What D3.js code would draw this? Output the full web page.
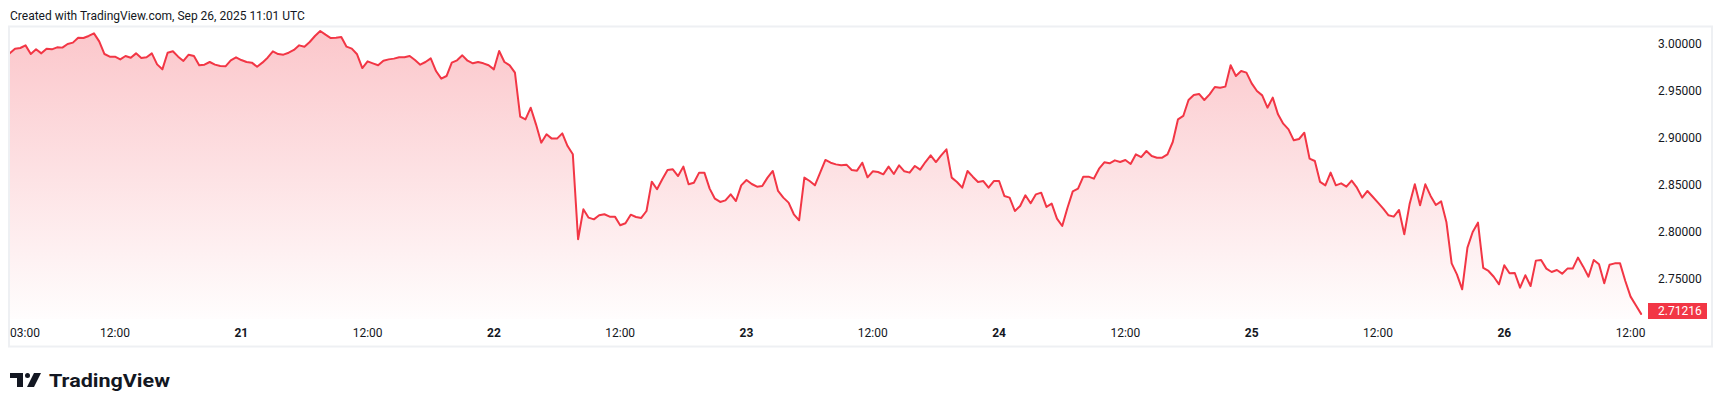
<!DOCTYPE html>
<html><head><meta charset="utf-8">
<script src="https://cdn.jsdelivr.net/npm/d3@7"></script>
<style>
html,body{margin:0;padding:0;background:#fff;}
svg{display:block;font-family:Roboto,"Noto Sans",sans-serif;}
</style></head>
<body>
<svg id="chart" width="1722" height="407"></svg>
<script>
// ---- data (30-minute closes, 20 Sep 02:00 -> 26 Sep 13:00) ----
const startTime = Date.UTC(2025, 8, 20, 2, 0);
const stepMinutes = 30;
const prices = [
2.9893,2.9943,2.9950,2.9978,2.9886,2.9936,2.9893,2.9943,2.9936,2.9957,2.9954,2.9993,3.0007,3.0060,3.0056,3.0078,3.0106,3.0021,2.9886,2.9858,
2.9858,2.9829,2.9865,2.9847,2.9893,2.9844,2.9851,2.9893,2.9776,2.9723,2.9900,2.9915,2.9858,2.9812,2.9879,2.9865,2.9766,2.9773,2.9801,2.9773,
2.9759,2.9755,2.9819,2.9851,2.9822,2.9801,2.9794,2.9751,2.9794,2.9847,2.9915,2.9886,2.9879,2.9900,2.9929,2.9978,2.9964,3.0014,3.0078,3.0131,
3.0092,3.0056,
3.0060,3.0067,2.9964,2.9943,2.9883,2.9737,2.9808,2.9787,2.9766,2.9815,2.9829,2.9837,2.9851,2.9851,2.9865,2.9822,2.9773,2.9801,2.9840,2.9705,
2.9624,2.9652,2.9794,2.9819,2.9872,2.9815,2.9787,2.9801,2.9787,2.9766,2.9723,2.9918,2.9801,2.9766,2.9688,2.9220,2.9191,2.9315,2.9138,2.8943,
2.9032,2.8986,2.8986,2.9042,2.8907,2.8819,2.7915,2.8234,2.8145,2.8127,2.8170,2.8181,2.8156,2.8156,2.8064,2.8085,2.8177,2.8152,2.8142,2.8216,
2.8528,2.8447,
2.8553,2.8652,2.8659,2.8588,2.8688,2.8500,2.8517,2.8624,2.8624,2.8454,2.8347,2.8312,2.8329,2.8393,2.8322,2.8489,2.8546,2.8503,2.8475,2.8482,
2.8571,2.8642,2.8429,2.8358,2.8305,2.8181,2.8117,2.8571,2.8535,2.8489,2.8624,2.8759,2.8730,2.8712,2.8702,2.8709,2.8652,2.8645,2.8730,2.8574,
2.8638,2.8631,2.8606,2.8688,2.8610,2.8702,2.8638,2.8624,2.8695,2.8656,2.8737,2.8808,2.8737,2.8808,2.8872,2.8571,2.8525,2.8464,2.8642,2.8581,
2.8525,2.8535,2.8464,
2.8535,2.8535,2.8376,2.8358,2.8216,2.8269,2.8383,2.8298,2.8393,2.8411,2.8259,2.8294,2.8134,2.8056,2.8251,2.8425,2.8454,2.8581,2.8581,2.8560,
2.8666,2.8734,2.8723,2.8755,2.8737,2.8759,2.8716,2.8819,2.8790,2.8854,2.8801,2.8783,2.8783,2.8819,2.8950,2.9191,2.9227,2.9397,2.9450,2.9461,
2.9397,2.9457,2.9535,2.9528,2.9539,2.9766,2.9652,2.9705,2.9688,2.9574,2.9493,2.9446,2.9315,2.9422,2.9244,2.9145,2.9085,2.8968,2.8982,2.9049,
2.8773,2.8748,
2.8525,2.8489,2.8624,2.8489,2.8510,2.8475,2.8539,2.8464,2.8358,2.8429,2.8368,2.8305,2.8241,2.8170,2.8156,2.8227,2.7968,2.8287,2.8500,2.8276,
2.8500,2.8376,2.8280,2.8319,2.8099,2.7659,2.7542,2.7383,2.7826,2.7993,2.8092,2.7610,2.7578,2.7517,2.7436,2.7638,2.7553,2.7556,2.7400,2.7532,
2.7418,2.7688,2.7695,2.7603,2.7567,2.7588,2.7549,2.7603,2.7603,2.7720,2.7624,2.7517,2.7695,2.7649,2.7447,2.7645,2.7659,2.7659,2.7471,2.7305,
2.7213,2.71216
];
const lastPrice = 2.71216;
const priceTicks = [3.0, 2.95, 2.9, 2.85, 2.8, 2.75];
const timeTicks = [
  [Date.UTC(2025,8,20,3), "03:00", false],
  [Date.UTC(2025,8,20,12), "12:00", false],
  [Date.UTC(2025,8,21,0), "21", true],
  [Date.UTC(2025,8,21,12), "12:00", false],
  [Date.UTC(2025,8,22,0), "22", true],
  [Date.UTC(2025,8,22,12), "12:00", false],
  [Date.UTC(2025,8,23,0), "23", true],
  [Date.UTC(2025,8,23,12), "12:00", false],
  [Date.UTC(2025,8,24,0), "24", true],
  [Date.UTC(2025,8,24,12), "12:00", false],
  [Date.UTC(2025,8,25,0), "25", true],
  [Date.UTC(2025,8,25,12), "12:00", false],
  [Date.UTC(2025,8,26,0), "26", true],
  [Date.UTC(2025,8,26,12), "12:00", false]
];
const titleText = "Created with TradingView.com, Sep 26, 2025 11:01 UTC";

const data = prices.map((p, i) => ({t: new Date(startTime + i*stepMinutes*60000), p}));

// ---- layout ----
const svg = d3.select("#chart");
const pane = {l: 9, t: 26.5, r: 1712, b: 346.5};
const plotBottom = 319;
const red = "#F23645";
const textColor = "#131722";

const x = d3.scaleUtc()
  .domain([data[0].t, data[data.length-1].t])
  .range([9.75, 1641.1]);
const y = d3.scaleLinear().domain([2.75, 3.0]).range([278.3, 43.3]);

// title
svg.append("text").attr("x", 10).attr("y", 19.5)
  .attr("font-size", 12).attr("fill", textColor).text(titleText);

// frame
svg.append("rect").attr("x", pane.l).attr("y", pane.t)
  .attr("width", pane.r - pane.l).attr("height", pane.b - pane.t)
  .attr("fill", "#fff").attr("stroke", "#eef0f3").attr("stroke-width", 2);

const defs = svg.append("defs");
const grad = defs.append("linearGradient").attr("id", "fillGrad")
  .attr("gradientUnits", "userSpaceOnUse")
  .attr("x1", 0).attr("x2", 0).attr("y1", y(d3.max(prices))).attr("y2", plotBottom);
grad.append("stop").attr("offset", 0).attr("stop-color", red).attr("stop-opacity", 0.28);
grad.append("stop").attr("offset", 1).attr("stop-color", red).attr("stop-opacity", 0.01);

defs.append("clipPath").attr("id", "plotClip").append("rect")
  .attr("x", pane.l + 1).attr("y", pane.t + 1)
  .attr("width", 1644 - pane.l).attr("height", plotBottom - pane.t);

const g = svg.append("g").attr("clip-path", "url(#plotClip)");
g.append("path").datum(data)
  .attr("fill", "url(#fillGrad)")
  .attr("d", d3.area().x(d => x(d.t)).y0(plotBottom).y1(d => y(d.p)));
g.append("path").datum(data)
  .attr("fill", "none").attr("stroke", red).attr("stroke-width", 2)
  .attr("stroke-linejoin", "round").attr("stroke-linecap", "round")
  .attr("d", d3.line().x(d => x(d.t)).y(d => y(d.p)));

// price axis
const fmt = d3.format(".5f");
svg.append("g").selectAll("text").data(priceTicks).join("text")
  .attr("x", 1658).attr("y", d => y(d)).attr("dy", "0.35em")
  .attr("font-size", 12).attr("fill", textColor).text(d => fmt(d));

// last price label
const ly = Math.min(y(lastPrice), 311);
svg.append("rect").attr("x", 1648).attr("y", ly - 8).attr("width", 59).attr("height", 16)
  .attr("fill", red);
svg.append("text").attr("x", 1658).attr("y", ly).attr("dy", "0.35em")
  .attr("font-size", 12).attr("fill", "#fff").text(fmt(lastPrice));

// time axis
const tg = svg.append("g");
timeTicks.forEach(([t, label, bold]) => {
  const tx = tg.append("text").attr("y", 333).attr("dy", "0.35em")
    .attr("font-size", 12).attr("fill", textColor)
    .attr("font-weight", bold ? 700 : 400).text(label);
  const w = tx.node().getComputedTextLength();
  let cx = x(new Date(t));
  let left = cx - w/2;
  if (left < pane.l + 1) left = pane.l + 1;
  tx.attr("x", left);
});

// TradingView logo
const logo = svg.append("g").attr("transform", "translate(10,373)").attr("fill", textColor);
logo.append("path").attr("d", "M0 0 H13 V14 H7 V5 H0 Z");
logo.append("circle").attr("cx", 17.5).attr("cy", 2.5).attr("r", 2.5);
logo.append("path").attr("d", "M24 0 H31 L24 14 H17 Z");
svg.append("text").attr("x", 49).attr("y", 386.5)
  .attr("font-size", 18).attr("font-weight", 700).attr("fill", textColor)
  .attr("textLength", 121).attr("lengthAdjust", "spacingAndGlyphs")
  .text("TradingView");
</script>
</body></html>
